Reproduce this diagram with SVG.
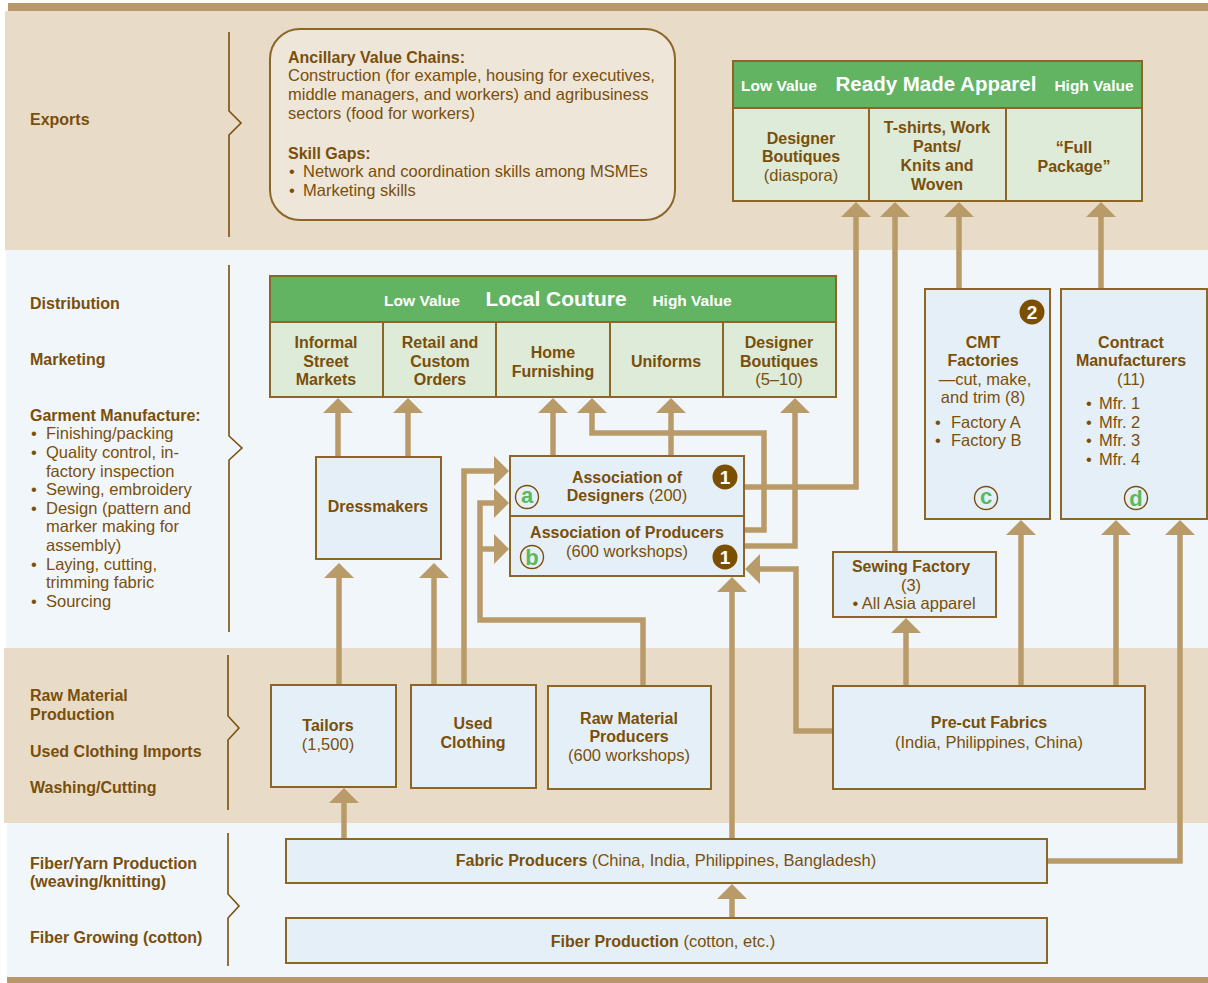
<svg xmlns="http://www.w3.org/2000/svg" width="1208" height="983" viewBox="0 0 1208 983">
<defs>
<style>
text{font-family:"Liberation Sans",Arial,sans-serif;fill:#7a4f0a}
.b{font-weight:bold;font-size:16px}
.r{font-weight:normal;font-size:16.5px}
.lb{font-weight:bold;font-size:16px}
.m{text-anchor:middle}
.wh{fill:#ffffff;font-weight:bold}
.box{fill:#e5eff8;stroke:#8b6626;stroke-width:2}
.gh{fill:#62b462;stroke:#8b6626;stroke-width:2}
.gc{fill:#ddebd8;stroke:#8b6626;stroke-width:2}
.br{fill:none;stroke:#7a4f0a;stroke-width:1.6}
.cn{fill:none;stroke:#b99b69;stroke-width:5.5;stroke-linejoin:miter;marker-end:url(#ah)}
.badge{fill:#7a4f00}
.ring{fill:none;stroke:#7a4f0a;stroke-width:1.4}
.gl{fill:#5cb85c;font-weight:bold;font-size:22px;text-anchor:middle}
.bn{fill:#ffffff;font-weight:bold;font-size:19px;text-anchor:middle}
</style>
<marker id="ah" markerUnits="userSpaceOnUse" viewBox="0 0 16 30" markerWidth="16" markerHeight="30" refX="5" refY="15" orient="auto">
<path d="M0,0 L15,15 L0,30 Z" fill="#b99b69"/>
</marker>
</defs>

<rect x="0" y="0" width="1208" height="983" fill="#ffffff"/>
<g id="bands">
<rect x="8" y="3" width="1200" height="8" fill="#b8986a"/>
<rect x="5" y="11" width="1203" height="239" fill="#e8dcc8"/>
<rect x="6" y="250" width="1202" height="398" fill="#f1f6fb"/>
<rect x="4" y="648" width="1204" height="175" fill="#e8dcc8"/>
<rect x="7" y="823" width="1201" height="154" fill="#f1f6fb"/>
<rect x="7" y="977" width="1201" height="6" fill="#b8986a"/>
</g>

<g id="stage-labels">
<text class="lb" x="30" y="125">Exports</text>
<text class="lb" x="30" y="309">Distribution</text>
<text class="lb" x="30" y="365">Marketing</text>
<text class="lb" x="30" y="421">Garment Manufacture:</text>
<text class="r" x="31" y="439">•</text><text class="r" x="46" y="439">Finishing/packing</text>
<text class="r" x="31" y="458">•</text><text class="r" x="46" y="458">Quality control, in-</text>
<text class="r" x="46" y="477">factory inspection</text>
<text class="r" x="31" y="495">•</text><text class="r" x="46" y="495">Sewing, embroidery</text>
<text class="r" x="31" y="514">•</text><text class="r" x="46" y="514">Design (pattern and</text>
<text class="r" x="46" y="532">marker making for</text>
<text class="r" x="46" y="551">assembly)</text>
<text class="r" x="31" y="570">•</text><text class="r" x="46" y="570">Laying, cutting,</text>
<text class="r" x="46" y="588">trimming fabric</text>
<text class="r" x="31" y="607">•</text><text class="r" x="46" y="607">Sourcing</text>
<text class="lb" x="30" y="701">Raw Material</text>
<text class="lb" x="30" y="720">Production</text>
<text class="lb" x="30" y="757">Used Clothing Imports</text>
<text class="lb" x="30" y="793">Washing/Cutting</text>
<text class="lb" x="30" y="869">Fiber/Yarn Production</text>
<text class="lb" x="30" y="887">(weaving/knitting)</text>
<text class="lb" x="30" y="943">Fiber Growing (cotton)</text>
</g>

<g id="brackets">
<path class="br" d="M229,32 V111 L241,123 L229,135 V237"/>
<path class="br" d="M229,265 V436 L242,448 L229,460 V632"/>
<path class="br" d="M228,655 V716 L239,728 L228,740 V810"/>
<path class="br" d="M228,833 V894 L239,906 L228,918 V966"/>
</g>

<g id="connectors">
<path class="cn" d="M339,685 V573"/>
<path class="cn" d="M434,685 V573"/>
<path class="cn" d="M338,457 V408"/>
<path class="cn" d="M408,457 V408"/>
<path class="cn" d="M464,685 V471 H499"/>
<path class="cn" d="M643,686 V620 H480 V503 H499"/>
<path class="cn" d="M480,549 H499"/>
<path class="cn" d="M553,456 V408"/>
<path class="cn" d="M671,456 V408"/>
<path class="cn" d="M744,530 H764 V433 H592 V408"/>
<path class="cn" d="M744,546 H795 V408"/>
<path class="cn" d="M744,487 H856 V212"/>
<path class="cn" d="M895,552 V212"/>
<path class="cn" d="M959,289 V212"/>
<path class="cn" d="M1101,289 V212"/>
<path class="cn" d="M833,731 H796 V569 H755"/>
<path class="cn" d="M732,839 V587"/>
<path class="cn" d="M906,686 V628"/>
<path class="cn" d="M1021,686 V530"/>
<path class="cn" d="M1116,686 V530"/>
<path class="cn" d="M1047,861 H1180 V530"/>
<path class="cn" d="M732,918 V894"/>
<path class="cn" d="M344,839 V798"/>
</g>

<g id="ancillary">
<rect x="270" y="29" width="405" height="191" rx="30" ry="30" fill="#efe6da" stroke="#8b6626" stroke-width="2"/>
<text class="b" x="288" y="63">Ancillary Value Chains:</text>
<text class="r" x="288" y="81">Construction (for example, housing for executives,</text>
<text class="r" x="288" y="100">middle managers, and workers) and agribusiness</text>
<text class="r" x="288" y="119">sectors (food for workers)</text>
<text class="b" x="288" y="159">Skill Gaps:</text>
<text class="r" x="289" y="177">•</text><text class="r" x="303" y="177">Network and coordination skills among MSMEs</text>
<text class="r" x="289" y="196">•</text><text class="r" x="303" y="196">Marketing skills</text>
</g>

<g id="ready-made-apparel">
<rect class="gh" x="733" y="61" width="409" height="47"/>
<rect class="gc" x="733" y="108" width="136" height="93"/>
<rect class="gc" x="869" y="108" width="137" height="93"/>
<rect class="gc" x="1006" y="108" width="136" height="93"/>
<text class="wh m" x="779" y="91" style="font-size:15.5px">Low Value</text>
<text class="wh m" x="936" y="91" style="font-size:20.5px">Ready Made Apparel</text>
<text class="wh m" x="1094" y="91" style="font-size:15.5px">High Value</text>
<text class="b m" x="801" y="144">Designer</text>
<text class="b m" x="801" y="162">Boutiques</text>
<text class="r m" x="801" y="181">(diaspora)</text>
<text class="b m" x="937" y="133">T-shirts, Work</text>
<text class="b m" x="937" y="152">Pants/</text>
<text class="b m" x="937" y="171">Knits and</text>
<text class="b m" x="937" y="190">Woven</text>
<text class="b m" x="1074" y="153">“Full</text>
<text class="b m" x="1074" y="172">Package”</text>
</g>

<g id="local-couture">
<rect class="gh" x="270" y="276" width="566" height="46"/>
<rect class="gc" x="270" y="322" width="113" height="75"/>
<rect class="gc" x="383" y="322" width="113" height="75"/>
<rect class="gc" x="496" y="322" width="114" height="75"/>
<rect class="gc" x="610" y="322" width="113" height="75"/>
<rect class="gc" x="723" y="322" width="113" height="75"/>
<text class="wh m" x="422" y="306" style="font-size:15.5px">Low Value</text>
<text class="wh m" x="556" y="306" style="font-size:21px">Local Couture</text>
<text class="wh m" x="692" y="306" style="font-size:15.5px">High Value</text>
<text class="b m" x="326" y="348">Informal</text>
<text class="b m" x="326" y="367">Street</text>
<text class="b m" x="326" y="385">Markets</text>
<text class="b m" x="440" y="348">Retail and</text>
<text class="b m" x="440" y="367">Custom</text>
<text class="b m" x="440" y="385">Orders</text>
<text class="b m" x="553" y="358">Home</text>
<text class="b m" x="553" y="377">Furnishing</text>
<text class="b m" x="666" y="367">Uniforms</text>
<text class="b m" x="779" y="348">Designer</text>
<text class="b m" x="779" y="367">Boutiques</text>
<text class="r m" x="779" y="385">(5–10)</text>
</g>

<g id="dressmakers">
<rect class="box" x="316" y="457" width="125" height="102"/>
<text class="b m" x="378" y="512">Dressmakers</text>
</g>

<g id="associations">
<rect class="box" x="510" y="456" width="234" height="120"/>
<line x1="510" y1="516" x2="744" y2="516" stroke="#8b6626" stroke-width="2"/>
<text class="b m" x="627" y="483">Association of</text>
<text class="m" x="627" y="501"><tspan class="b">Designers</tspan><tspan class="r"> (200)</tspan></text>
<text class="b m" x="627" y="538">Association of Producers</text>
<text class="r m" x="627" y="557">(600 workshops)</text>
<circle class="badge" cx="725" cy="477" r="12.5"/>
<text class="bn" x="725" y="484">1</text>
<circle class="badge" cx="725" cy="557" r="12.5"/>
<text class="bn" x="725" y="564">1</text>
<circle class="ring" cx="527" cy="497" r="11.5"/>
<text class="gl" x="527" y="503">a</text>
<circle class="ring" cx="532" cy="557" r="11.5"/>
<text class="gl" x="532" y="565">b</text>
</g>

<g id="cmt-factories">
<rect class="box" x="925" y="289" width="125" height="230"/>
<circle class="badge" cx="1032" cy="312" r="12.5"/>
<text class="bn" x="1032" y="319">2</text>
<text class="b m" x="983" y="348">CMT</text>
<text class="b m" x="983" y="366">Factories</text>
<text class="r m" x="985" y="385">—cut, make,</text>
<text class="r m" x="983" y="403">and trim (8)</text>
<text class="r" x="935" y="428">•</text><text class="r" x="951" y="428">Factory A</text>
<text class="r" x="935" y="446">•</text><text class="r" x="951" y="446">Factory B</text>
<circle class="ring" cx="986" cy="498" r="11.5"/>
<text class="gl" x="986" y="504">c</text>
</g>

<g id="contract-manufacturers">
<rect class="box" x="1061" y="289" width="146" height="230"/>
<text class="b m" x="1131" y="348">Contract</text>
<text class="b m" x="1131" y="366">Manufacturers</text>
<text class="r m" x="1131" y="385">(11)</text>
<text class="r" x="1086" y="409">•</text><text class="r" x="1099" y="409">Mfr. 1</text>
<text class="r" x="1086" y="428">•</text><text class="r" x="1099" y="428">Mfr. 2</text>
<text class="r" x="1086" y="446">•</text><text class="r" x="1099" y="446">Mfr. 3</text>
<text class="r" x="1086" y="465">•</text><text class="r" x="1099" y="465">Mfr. 4</text>
<circle class="ring" cx="1136" cy="498" r="11.5"/>
<text class="gl" x="1136" y="506">d</text>
</g>

<g id="sewing-factory">
<rect class="box" x="833" y="552" width="163" height="65"/>
<text class="b m" x="911" y="572">Sewing Factory</text>
<text class="r m" x="911" y="591">(3)</text>
<text class="r m" x="914" y="609">• All Asia apparel</text>
</g>

<g id="tailors">
<rect class="box" x="271" y="685" width="125" height="102"/>
<text class="b m" x="328" y="731">Tailors</text>
<text class="r m" x="328" y="750">(1,500)</text>
</g>

<g id="used-clothing">
<rect class="box" x="411" y="685" width="125" height="103"/>
<text class="b m" x="473" y="729">Used</text>
<text class="b m" x="473" y="748">Clothing</text>
</g>

<g id="raw-material-producers">
<rect class="box" x="548" y="686" width="163" height="103"/>
<text class="b m" x="629" y="724">Raw Material</text>
<text class="b m" x="629" y="742">Producers</text>
<text class="r m" x="629" y="761">(600 workshops)</text>
</g>

<g id="pre-cut-fabrics">
<rect class="box" x="833" y="686" width="312" height="103"/>
<text class="b m" x="989" y="728">Pre-cut Fabrics</text>
<text class="r m" x="989" y="748">(India, Philippines, China)</text>
</g>

<g id="fabric-producers">
<rect class="box" x="286" y="839" width="761" height="44"/>
<text class="m" x="666" y="866"><tspan class="b">Fabric Producers</tspan><tspan class="r"> (China, India, Philippines, Bangladesh)</tspan></text>
</g>

<g id="fiber-production">
<rect class="box" x="286" y="918" width="761" height="45"/>
<text class="m" x="663" y="947"><tspan class="b">Fiber Production</tspan><tspan class="r"> (cotton, etc.)</tspan></text>
</g>
</svg>
